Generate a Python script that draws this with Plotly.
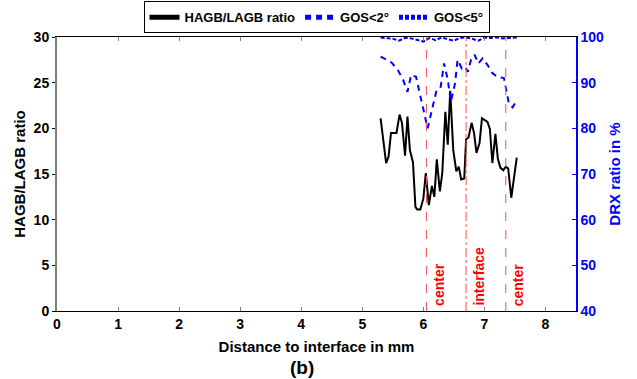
import plotly.graph_objects as go

# HAGB/LAGB ratio (left axis)
x_hl = [5.30, 5.39, 5.43, 5.47, 5.56, 5.61, 5.65, 5.70, 5.74, 5.78,
        5.83, 5.87, 5.90, 5.95, 6.00, 6.04, 6.09, 6.14, 6.18, 6.22,
        6.27, 6.31, 6.36, 6.40, 6.44, 6.49, 6.54, 6.58, 6.62, 6.67,
        6.70, 6.74, 6.79, 6.83, 6.87, 6.92, 6.96, 7.00, 7.05, 7.09,
        7.13, 7.18, 7.22, 7.26, 7.31, 7.35, 7.39, 7.44, 7.48, 7.53]
y_hl = [21.1, 16.2, 16.9, 19.5, 19.5, 21.5, 20.6, 17.0, 21.3, 17.6,
        16.3, 11.4, 11.1, 11.1, 12.3, 15.1, 11.6, 13.7, 12.5, 16.6,
        13.1, 15.1, 21.8, 18.2, 24.1, 17.6, 15.3, 15.8, 14.4, 14.5,
        18.8, 19.0, 20.6, 19.5, 17.3, 18.4, 21.1, 20.9, 20.7, 19.9,
        16.2, 19.4, 16.7, 15.7, 15.4, 15.8, 15.6, 12.4, 14.3, 16.8]

# GOS<2° (right axis, %)
x_g2 = [5.30, 5.48, 5.58, 5.67, 5.74, 5.80, 5.88, 5.94, 6.02, 6.07,
        6.14, 6.21, 6.28, 6.34, 6.40, 6.45, 6.52, 6.56, 6.63, 6.68,
        6.73, 6.78, 6.84, 6.90, 6.97, 7.05, 7.13, 7.21, 7.32, 7.36,
        7.40, 7.46, 7.53]
y_g2 = [95.7, 94.4, 92.8, 90.6, 88.0, 91.7, 91.3, 87.7, 83.6, 80.0,
        84.0, 88.0, 88.8, 94.2, 90.6, 85.8, 89.9, 95.0, 93.1, 93.5,
        92.4, 95.0, 96.1, 94.2, 95.3, 93.9, 92.1, 91.3, 91.0, 88.4,
        85.5, 84.6, 86.0]

# GOS<5° (right axis, %)
x_g5 = [5.30, 5.40, 5.50, 5.60, 5.70, 5.80, 5.90, 6.00, 6.05, 6.10,
        6.20, 6.30, 6.40, 6.50, 6.60, 6.70, 6.80, 6.90, 7.00, 7.10,
        7.20, 7.30, 7.40, 7.53]
y_g5 = [99.9, 99.8, 99.6, 99.2, 99.8, 99.7, 99.3, 99.0, 99.4, 99.8,
        99.3, 99.9, 99.5, 99.2, 99.8, 99.9, 99.6, 99.2, 99.9, 99.8,
        99.9, 99.7, 99.8, 99.9]

marker_x = [6.05, 6.70, 7.35]
marker_txt = ["center", "interface", "center"]
marker_dash = ["dash", "dashdot", "dash"]

x_ticks = [0, 1, 2, 3, 4, 5, 6, 7, 8]
yl_ticks = [0, 5, 10, 15, 20, 25, 30]
yr_ticks = [40, 50, 60, 70, 80, 90, 100]

FONT = "Liberation Sans, Arial, sans-serif"
RED = "#ff4d4d"

fig = go.Figure()
fig.add_trace(go.Scatter(x=x_hl, y=y_hl, mode="lines", name="HAGB/LAGB ratio",
                         line=dict(color="black", width=2)))
fig.add_trace(go.Scatter(x=x_g2, y=y_g2, mode="lines", name="GOS<2°", yaxis="y2",
                         line=dict(color="blue", width=2, dash="6px,5px")))
fig.add_trace(go.Scatter(x=x_g5, y=y_g5, mode="lines", name="GOS<5°", yaxis="y2",
                         line=dict(color="blue", width=2, dash="4px,2px")))

shapes = []
annotations = []
for xv, t, d in zip(marker_x, marker_txt, marker_dash):
    shapes.append(dict(type="line", xref="x", yref="paper", x0=xv, x1=xv, y0=0, y1=1,
                       line=dict(color=RED, width=1, dash=d)))
    annotations.append(dict(x=xv, y=0, xref="x", yref="y", text=t, textangle=-90,
                            showarrow=False, xanchor="left", yanchor="bottom",
                            xshift=2, yshift=3,
                            font=dict(family=FONT, size=14, color="red", weight="bold")))
annotations.append(dict(x=0.473, y=-0.205, xref="paper", yref="paper", text="(b)",
                        showarrow=False, xanchor="center", yanchor="middle",
                        font=dict(family=FONT, size=19, color="black", weight="bold")))

fig.update_layout(
    width=637, height=379,
    margin=dict(l=57, r=61, t=37, b=68, autoexpand=False),
    paper_bgcolor="white", plot_bgcolor="white",
    font=dict(family=FONT, size=13, color="black", weight="bold"),
    showlegend=True,
    legend=dict(orientation="h", x=0.5, xanchor="center", y=1.13, yanchor="top",
                bgcolor="white", bordercolor="black", borderwidth=1,
                font=dict(family=FONT, size=13, color="black", weight="bold"),
                tracegroupgap=0, itemsizing="constant"),
    xaxis=dict(range=[0, 8.5], tickvals=x_ticks, ticks="inside", ticklen=4,
               tickcolor="gray", showline=True, linecolor="black", linewidth=1,
               mirror="ticks", showgrid=False, zeroline=False,
               title=dict(text="Distance to interface in mm", standoff=10,
                          font=dict(family=FONT, size=15, weight="bold")),
               tickfont=dict(family=FONT, size=14, weight="bold")),
    yaxis=dict(range=[0, 30], tickvals=yl_ticks, ticks="outside", ticklen=3,
               tickcolor="black", showline=True, linecolor="gray", linewidth=2,
               showgrid=False, zeroline=False,
               title=dict(text="HAGB/LAGB ratio", standoff=4,
                          font=dict(family=FONT, size=15, weight="bold")),
               tickfont=dict(family=FONT, size=14, weight="bold")),
    yaxis2=dict(range=[40, 100], tickvals=yr_ticks, overlaying="y", side="right",
                ticks="inside", ticklen=4, tickcolor="blue", showline=True,
                linecolor="blue", linewidth=1.5, showgrid=False, zeroline=False,
                tickfont=dict(family=FONT, size=14, color="blue", weight="bold"),
                title=dict(text="DRX ratio in %", standoff=6,
                           font=dict(family=FONT, size=15, color="blue", weight="bold"))),
    shapes=shapes,
    annotations=annotations,
)

fig.write_html("out.html")
